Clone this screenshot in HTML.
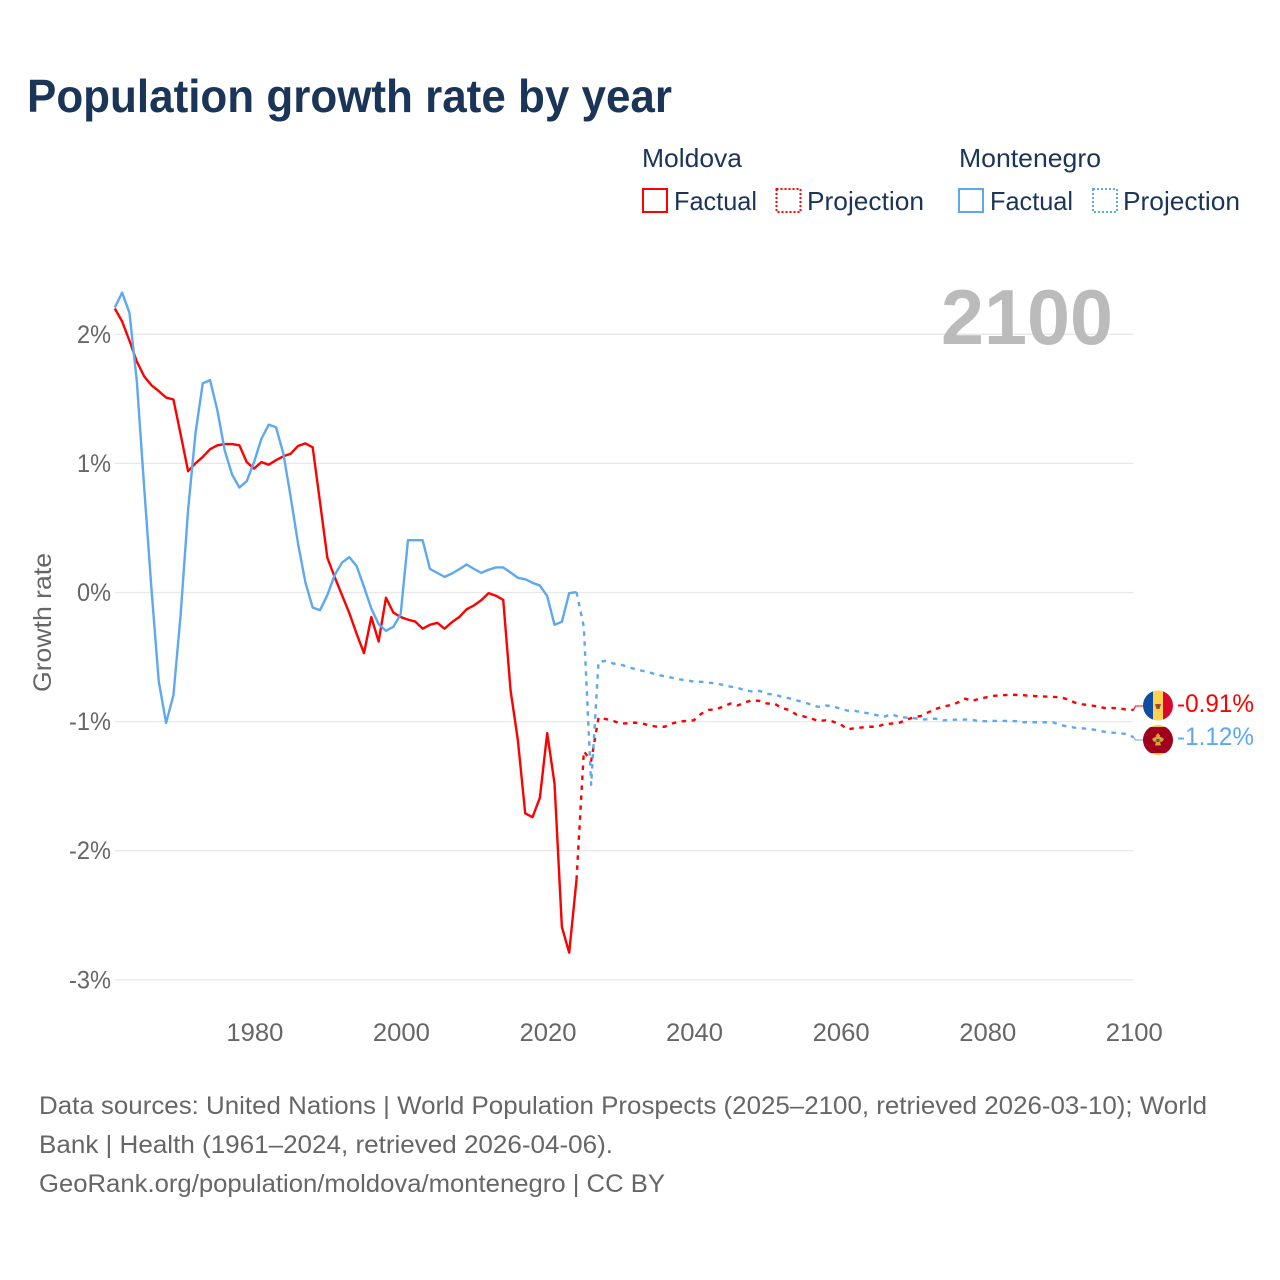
<!DOCTYPE html>
<html lang="en">
<head>
<meta charset="utf-8">
<title>Population growth rate by year</title>
<style>
html,body{margin:0;padding:0;background:#fff;}
svg{display:block;font-family:"Liberation Sans",sans-serif;}
</style>
</head>
<body>
<svg id="chart" xmlns="http://www.w3.org/2000/svg" width="1280" height="1280" viewBox="0 0 1280 1280">
  <rect x="0" y="0" width="1280" height="1280" fill="#ffffff"/>
  <text x="27" y="112" font-size="46" font-weight="700" fill="#1a3557" textLength="645" lengthAdjust="spacingAndGlyphs">Population growth rate by year</text>

  <g font-size="26" fill="#1a3557">
    <text x="642" y="167" textLength="100" lengthAdjust="spacingAndGlyphs">Moldova</text>
    <rect x="643" y="189" width="24" height="23" fill="none" stroke="#ff0000" stroke-width="2"/>
    <text x="674" y="210" textLength="83" lengthAdjust="spacingAndGlyphs">Factual</text>
    <rect x="776.5" y="189" width="24" height="23" fill="none" stroke="#ff0000" stroke-width="2" stroke-dasharray="2 2"/>
    <text x="807" y="210" textLength="117" lengthAdjust="spacingAndGlyphs">Projection</text>
    <text x="959" y="167" textLength="142" lengthAdjust="spacingAndGlyphs">Montenegro</text>
    <rect x="959" y="189" width="24" height="23" fill="none" stroke="#5ea8ef" stroke-width="2"/>
    <text x="990" y="210" textLength="83" lengthAdjust="spacingAndGlyphs">Factual</text>
    <rect x="1093" y="189" width="24" height="23" fill="none" stroke="#5ea8ef" stroke-width="2" stroke-dasharray="2 2"/>
    <text x="1123" y="210" textLength="117" lengthAdjust="spacingAndGlyphs">Projection</text>
  </g>

  <g id="grid"></g>
  <g id="yticks"></g>
  <g id="xticks"></g>
  <text transform="translate(51,692) rotate(-90)" font-size="25" fill="#666666" textLength="139" lengthAdjust="spacingAndGlyphs">Growth rate</text>
  <text x="1113" y="344" text-anchor="end" font-size="78" font-weight="700" fill="#bbbbbb" textLength="172" lengthAdjust="spacingAndGlyphs">2100</text>

  <g id="series"></g>

  <g>
    <clipPath id="clip-md"><circle cx="1158" cy="705.5" r="15"/></clipPath>
    <g clip-path="url(#clip-md)">
      <rect x="1143" y="690" width="10" height="31" fill="#0b4ea2"/>
      <rect x="1153" y="690" width="10" height="31" fill="#ffd24d"/>
      <rect x="1163" y="690" width="10" height="31" fill="#d8082c"/>
      <path d="M1155 704h6l-1.500 5h-3z" fill="#b5472e"/>
      <rect x="1157" y="705" width="2" height="2" fill="#2a5aa0"/>
    </g>
  </g>
  <g>
    <clipPath id="clip-me"><circle cx="1158" cy="740" r="15"/></clipPath>
    <g clip-path="url(#clip-me)">
      <rect x="1143" y="725" width="30" height="30" fill="#f6c945"/>
      <rect x="1143" y="727" width="30" height="26" fill="#a0001e"/>
      <path d="M1158 733l2.500 3-1 1h1.500l3 2-2 3-2-.5 1 4h-6l1-4-2 .5-2-3 3-2h1.500l-1-1z" fill="#d9a526"/>
      <rect x="1156.500" y="739" width="3" height="3" fill="#2a5aa0"/>
    </g>
  </g>
  <text id="value-moldova" x="1177" y="712" font-size="25" fill="#ff0000" textLength="77" lengthAdjust="spacingAndGlyphs">-0.91%</text>
  <text id="value-montenegro" x="1177" y="745" font-size="25" fill="#5ea8ef" textLength="77" lengthAdjust="spacingAndGlyphs">-1.12%</text>

  <g font-size="25" fill="#666666">
    <text x="39" y="1114" textLength="1168" lengthAdjust="spacingAndGlyphs">Data sources: United Nations | World Population Prospects (2025–2100, retrieved 2026-03-10); World</text>
    <text x="39" y="1153" textLength="574" lengthAdjust="spacingAndGlyphs">Bank | Health (1961–2024, retrieved 2026-04-06).</text>
    <text x="39" y="1192" textLength="626" lengthAdjust="spacingAndGlyphs">GeoRank.org/population/moldova/montenegro | CC BY</text>
  </g>
</svg>
<script>
// Growth rates in percent. Factual arrays start in 1961; projection arrays start in 2024.
const factualStartYear = 1961;
const projectionStartYear = 2024;
const yTickValues = [2, 1, 0, -1, -2, -3];
const yTickLabels = ["2%", "1%", "0%", "-1%", "-2%", "-3%"];
const xTickValues = [1980, 2000, 2020, 2040, 2060, 2080, 2100];
const xTickLabels = ["1980", "2000", "2020", "2040", "2060", "2080", "2100"];

const moldovaFactual = [
  2.20, 2.10, 1.95, 1.79, 1.675, 1.605, 1.56, 1.51, 1.495, 1.22,
  0.94, 1.00, 1.05, 1.11, 1.14, 1.15, 1.15, 1.14, 1.01, 0.96,
  1.01, 0.99, 1.025, 1.055, 1.075, 1.135, 1.155, 1.125, 0.70, 0.27,
  0.12, -0.02, -0.16, -0.32, -0.47, -0.19, -0.38, -0.04, -0.155, -0.19,
  -0.21, -0.225, -0.28, -0.25, -0.235, -0.28, -0.23, -0.19, -0.13, -0.10,
  -0.06, -0.005, -0.025, -0.057, -0.757, -1.145, -1.71, -1.74, -1.59, -1.09,
  -1.48, -2.59, -2.79, -2.225
];
const moldovaProjection = [
  -2.225, -1.23, -1.305, -0.97, -0.98, -0.995, -1.015, -1.013, -1.008, -1.015,
  -1.03, -1.04, -1.04, -1.015, -1.00, -0.995, -0.99, -0.94, -0.91, -0.905,
  -0.885, -0.86, -0.875, -0.85, -0.835, -0.84, -0.86, -0.86, -0.895, -0.91,
  -0.945, -0.96, -0.975, -0.995, -0.99, -1.00, -1.02, -1.06, -1.05, -1.045,
  -1.04, -1.04, -1.02, -1.015, -1.01, -0.987, -0.966, -0.956, -0.928, -0.902,
  -0.884, -0.873, -0.853, -0.822, -0.84, -0.822, -0.811, -0.80, -0.796, -0.793,
  -0.793, -0.796, -0.80, -0.804, -0.806, -0.809, -0.811, -0.827, -0.853, -0.866,
  -0.873, -0.881, -0.894, -0.894, -0.897, -0.907, -0.91
];
const montenegroFactual = [
  2.207, 2.323, 2.166, 1.64, 0.82, 0.03, -0.69, -1.01, -0.795, -0.16,
  0.64, 1.23, 1.62, 1.645, 1.41, 1.10, 0.914, 0.813, 0.862, 1.01,
  1.19, 1.30, 1.28, 1.076, 0.74, 0.38, 0.08, -0.116, -0.137, -0.02,
  0.134, 0.232, 0.274, 0.204, 0.044, -0.124, -0.245, -0.297, -0.266, -0.17,
  0.405, 0.405, 0.405, 0.183, 0.152, 0.121, 0.147, 0.18, 0.217, 0.183,
  0.152, 0.176, 0.194, 0.194, 0.155, 0.114, 0.103, 0.075, 0.054, -0.028,
  -0.25, -0.227, -0.005, 0.003
];
const montenegroProjection = [
  0.003, -0.266, -1.49, -0.537, -0.53, -0.55, -0.558, -0.576, -0.594, -0.607,
  -0.62, -0.636, -0.649, -0.66, -0.672, -0.68, -0.69, -0.692, -0.698, -0.705,
  -0.716, -0.729, -0.739, -0.757, -0.767, -0.762, -0.786, -0.788, -0.809, -0.819,
  -0.835, -0.85, -0.868, -0.886, -0.876, -0.879, -0.902, -0.915, -0.917, -0.928,
  -0.938, -0.95, -0.961, -0.943, -0.964, -0.969, -0.972, -0.984, -0.982, -0.977,
  -0.99, -0.987, -0.984, -0.984, -0.987, -0.997, -0.997, -0.995, -0.995, -0.995,
  -0.997, -1.005, -1.005, -1.005, -1.005, -1.005, -1.026, -1.039, -1.047, -1.052,
  -1.057, -1.067, -1.078, -1.085, -1.09, -1.096, -1.12
];

const SVG_NS = "http://www.w3.org/2000/svg";
function xScale(year) { return 114.8 + (year - 1961) * (1133.5 - 114.8) / (2100 - 1961); }
function yScale(value) { return 592.5 - value * 129.1; }
function pointsFrom(values, startYear) {
  return values.map(function (v, i) {
    return xScale(startYear + i).toFixed(2) + "," + yScale(v).toFixed(2);
  }).join(" ");
}
function svgEl(tag, parentId) {
  const el = document.createElementNS(SVG_NS, tag);
  document.getElementById(parentId).appendChild(el);
  return el;
}

yTickValues.forEach(function (v, i) {
  const line = svgEl("line", "grid");
  
  
  line.setAttribute("x1", xScale(1961));
  line.setAttribute("x2", xScale(2100));
  line.setAttribute("y1", yScale(v));
  line.setAttribute("y2", yScale(v));
  line.setAttribute("stroke", "#e8e8e8");
  line.setAttribute("stroke-width", "1.3");

  const label = svgEl("text", "yticks");
  
  
  label.setAttribute("x", "111");
  label.setAttribute("y", yScale(v) + 8.5);
  label.setAttribute("text-anchor", "end");
  label.setAttribute("font-size", "25");
  label.setAttribute("fill", "#666666");
  label.setAttribute("textLength", yTickLabels[i].length === 2 ? "34" : "42");
  label.setAttribute("lengthAdjust", "spacingAndGlyphs");
  label.textContent = yTickLabels[i];
});

xTickValues.forEach(function (v, i) {
  const label = svgEl("text", "xticks");
  
  
  label.setAttribute("x", xScale(v) + 0.8);
  label.setAttribute("y", "1041");
  label.setAttribute("text-anchor", "middle");
  label.setAttribute("font-size", "25");
  label.setAttribute("fill", "#666666");
  label.setAttribute("textLength", "57");
  label.setAttribute("lengthAdjust", "spacingAndGlyphs");
  label.textContent = xTickLabels[i];
});

function drawLine(values, startYear, color, dashed, name) {
  const line = svgEl("polyline", "series");
  
  
  line.setAttribute("points", pointsFrom(values, startYear));
  line.setAttribute("fill", "none");
  line.setAttribute("stroke", color);
  line.setAttribute("stroke-width", "2.4");
  line.setAttribute("stroke-linejoin", "round");
  if (dashed) line.setAttribute("stroke-dasharray", "4.5 5.5");
}
function drawConnector(endValue, labelY, color, name) {
  const line = svgEl("polyline", "series");
  
  
  line.setAttribute("points",
    xScale(2100) + "," + yScale(endValue) + " " +
    (xScale(2100) + 2) + "," + labelY + " " + (xScale(2100) + 10) + "," + labelY);
  line.setAttribute("fill", "none");
  line.setAttribute("stroke", color);
  line.setAttribute("stroke-width", "1");
}

const RED = "#ff0000";
const BLUE = "#5ea8ef";
drawLine(moldovaFactual, factualStartYear, RED, false, "moldova-factual-line");
drawLine(moldovaProjection, projectionStartYear, RED, true, "moldova-projection-line");
drawLine(montenegroFactual, factualStartYear, BLUE, false, "montenegro-factual-line");
drawLine(montenegroProjection, projectionStartYear, BLUE, true, "montenegro-projection-line");
drawConnector(moldovaProjection[moldovaProjection.length - 1], 706, RED, "moldova-label-connector");
drawConnector(montenegroProjection[montenegroProjection.length - 1], 740, BLUE, "montenegro-label-connector");
</script>
</body>
</html>
